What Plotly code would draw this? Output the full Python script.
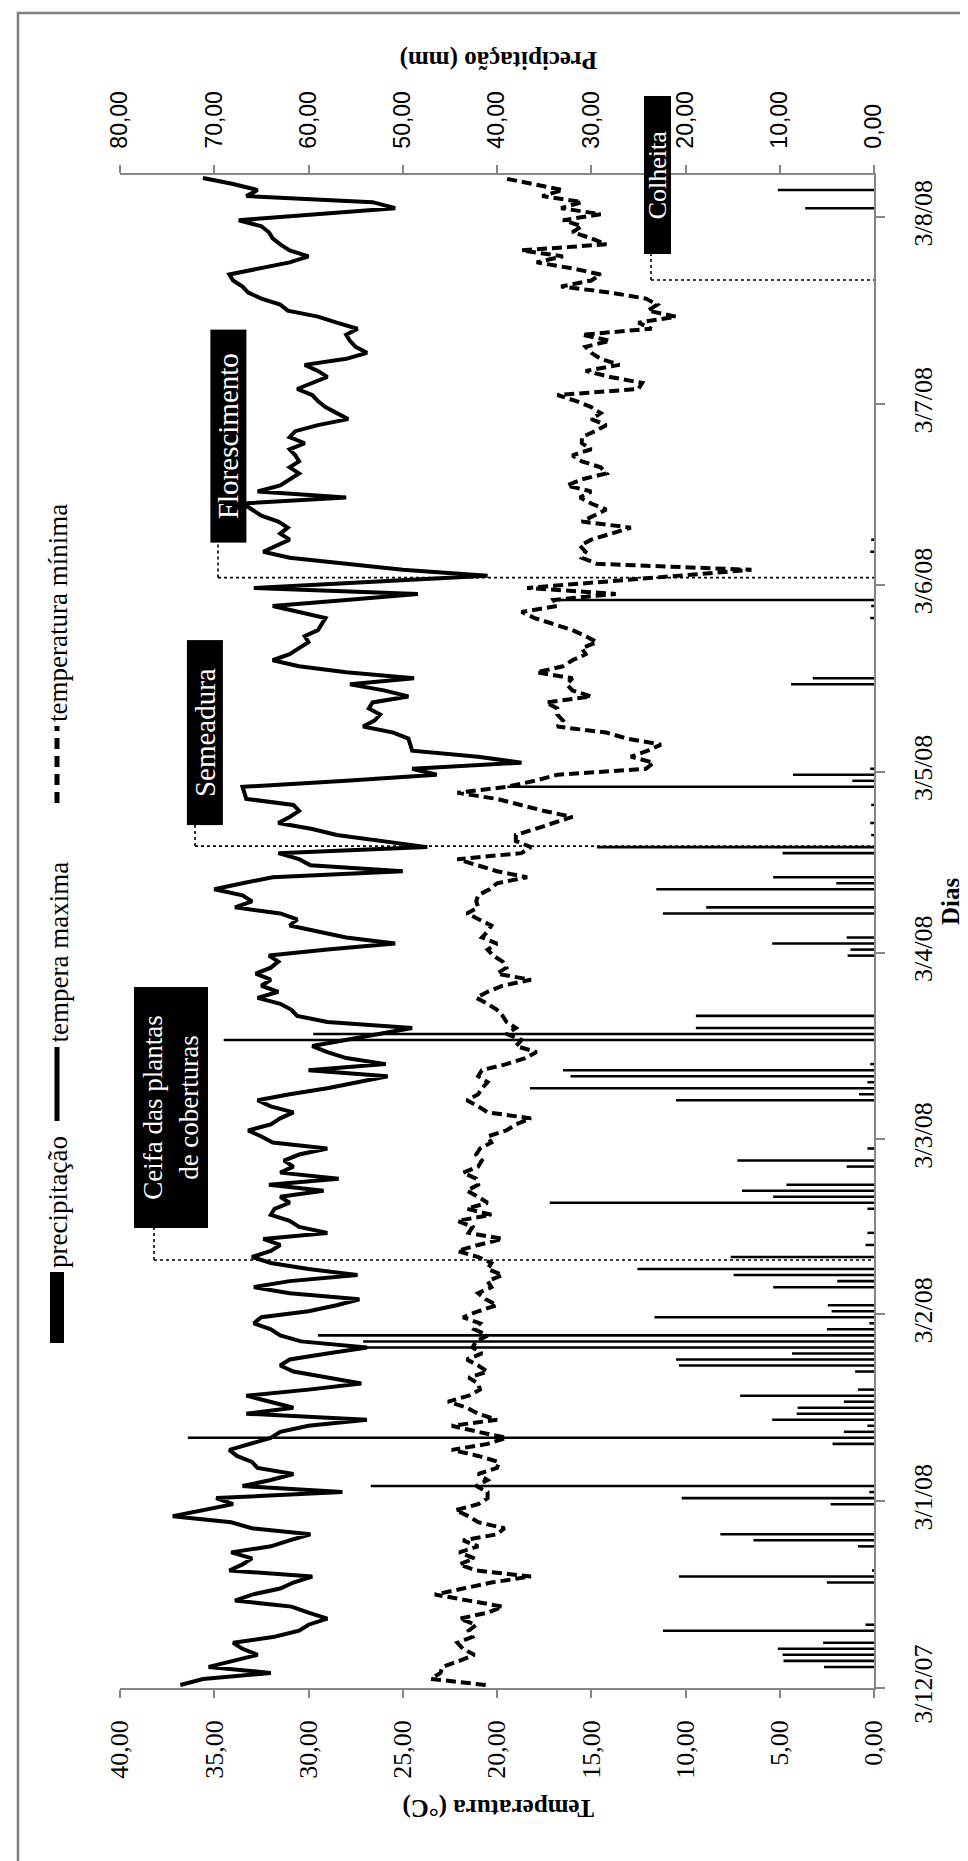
import plotly.graph_objects as go
import pandas as pd

# ---------------- data (daily, from 3/12/07) ----------------
start_date = "2007-12-03 12:00"

tmax = [
    36.8, 35.6, 32.0, 35.3, 34.0, 32.7, 33.5, 34.0, 31.8, 30.5,
    30.0, 29.0, 30.0, 30.9, 33.9, 33.0, 31.5, 30.8, 29.8, 34.2,
    33.5, 33.0, 34.1, 32.0, 31.0, 29.9, 33.0, 34.1, 37.2, 35.5,
    34.0, 34.9, 28.2, 33.5, 32.0, 30.8, 32.7, 33.0, 33.8, 34.2,
    33.0, 32.0, 31.5, 30.0, 26.9, 33.3, 30.8, 32.0, 33.3, 30.0,
    27.2, 29.0, 30.8, 31.5, 31.0, 29.0, 26.9, 30.4, 31.5, 32.0,
    32.9, 32.5, 30.0, 28.5, 27.3, 31.0, 32.9, 31.0, 27.4, 30.0,
    32.0, 33.0, 32.0, 31.5, 32.4, 29.0, 30.5, 31.0, 32.0, 31.8,
    31.0, 31.5, 29.2, 32.1, 28.4, 31.5, 30.8, 31.3, 30.5, 29.0,
    31.9, 32.5, 33.2, 32.0, 31.5, 30.8, 32.0, 32.7, 31.0, 29.0,
    27.5, 25.8, 30.0, 25.9, 28.0, 29.0, 29.8, 28.0, 26.0, 24.5,
    29.0, 30.6, 30.9, 31.5, 32.7, 31.6, 32.5, 32.0, 32.8, 32.0,
    31.6, 32.1, 29.0, 25.4, 28.0, 29.5, 31.0, 30.6, 31.5, 33.9,
    33.0, 33.5, 35.0, 33.5, 31.9, 25.0, 29.9, 30.5, 31.6, 23.7,
    26.0, 28.5, 29.8, 31.6, 31.0, 30.5, 30.8, 33.3, 33.4, 33.5,
    28.0, 23.2, 24.5, 18.7, 21.0, 24.5, 24.6, 24.7, 25.5, 27.1,
    26.5, 26.2, 26.8, 26.6, 24.7, 26.0, 27.8, 24.4, 28.0, 30.5,
    31.9, 31.0, 30.5, 30.0, 30.2, 29.5, 29.3, 29.1, 30.5, 31.9,
    28.0, 24.2, 32.9, 26.5, 20.5, 25.0, 28.0, 31.0, 32.4, 31.7,
    31.0, 31.5, 31.1, 31.6, 32.5, 33.0, 33.5, 28.0, 32.7, 31.5,
    31.0, 30.5, 31.0, 30.5, 30.7, 31.0, 30.2, 31.0, 30.7, 29.5,
    27.9, 28.5, 29.1, 29.5, 29.8, 30.6, 29.8, 29.0, 29.5, 30.2,
    28.0, 26.9, 27.5, 27.8, 28.0, 27.4, 28.5, 29.5, 31.1, 31.5,
    32.5, 33.2, 33.5, 34.0, 34.2, 32.5, 31.0, 30.0, 31.0, 31.5,
    31.9, 32.1, 32.5, 33.7, 29.5, 25.4, 26.6, 33.3, 32.7, 34.0,
    35.6,
]

tmin = [
    20.6, 23.5, 23.0, 22.9, 22.0, 21.2, 21.8, 22.1, 21.3, 21.5,
    21.1, 22.0, 20.5, 19.7, 21.5, 23.3, 21.8, 20.3, 18.2, 21.1,
    22.0, 21.2, 22.0, 21.0, 21.8, 20.0, 19.6, 21.0, 21.5, 22.2,
    21.0, 20.5, 20.5, 21.1, 20.5, 21.0, 20.0, 19.9, 21.0, 22.4,
    20.5, 19.5, 21.0, 22.4, 20.0, 21.0, 21.6, 22.6, 21.5, 20.9,
    21.0, 21.5, 20.5, 21.0, 21.6, 20.8, 21.3, 21.1, 20.5, 21.2,
    20.9, 21.8, 21.0, 20.0, 20.6, 21.0, 20.3, 20.5, 19.7, 20.5,
    20.3, 21.0, 22.1, 21.0, 19.7, 21.5, 21.3, 22.1, 20.3, 21.6,
    20.5, 21.0, 21.6, 21.0, 21.1, 21.8, 21.0, 20.8, 21.1, 20.9,
    20.3, 20.5, 19.5, 19.0, 18.2, 20.5, 21.0, 21.6, 21.0, 20.8,
    20.5, 21.0, 20.8, 19.5, 18.5, 17.9, 19.0, 18.7, 19.5, 19.0,
    19.5, 19.7, 20.0, 20.5, 21.1, 20.5, 19.7, 18.2, 20.0, 19.5,
    19.7, 20.2, 20.5, 20.0, 20.8, 20.5, 20.3, 21.0, 21.6, 21.0,
    21.1, 21.0, 20.4, 20.0, 18.4, 20.0, 21.0, 22.1, 18.7, 18.2,
    19.0, 19.0, 18.0, 17.0, 16.0, 17.5, 18.7, 20.0, 22.1, 19.5,
    18.0, 16.8, 12.1, 11.7, 12.9, 12.0, 11.3, 13.1, 14.2, 16.8,
    16.5, 16.8, 16.8, 17.4, 15.0, 16.0, 16.3, 16.0, 17.9, 16.5,
    16.0, 15.3, 15.5, 14.7, 15.3, 16.0, 17.0, 18.0, 18.7, 16.8,
    17.0, 13.7, 18.4, 14.5, 10.5, 6.5, 14.7, 15.5, 15.3, 15.6,
    15.0, 14.0, 12.9, 15.5, 14.8, 14.2, 15.0, 15.6, 15.0, 16.3,
    15.5, 14.2, 14.5, 15.5, 16.0, 15.0, 15.5, 15.5, 14.8, 14.2,
    15.0, 14.5, 15.0, 15.8, 16.8, 12.5, 12.3, 14.0, 15.3, 13.5,
    14.5, 15.0, 15.3, 14.0, 15.5, 11.8, 12.5, 10.5, 12.0, 11.5,
    12.1, 14.0, 16.6, 15.0, 14.5, 16.0, 17.9, 16.5, 18.7, 14.2,
    15.0, 16.0, 15.5, 16.5, 14.5, 16.6, 15.5, 17.6, 16.5, 18.0,
    19.7,
]

precip = [
    0, 0, 0, 5.3, 9.6, 9.7, 10.2, 5.4, 0, 22.4,
    0.9, 0, 0, 0, 0, 0, 0, 5.0, 20.7, 0.2,
    0, 0, 0, 1.7, 12.8, 16.3, 0, 0, 0, 0,
    4.6, 20.4, 0.5, 53.4, 0, 0, 0, 0, 0, 0,
    4.4, 72.8, 3.2, 0.7, 10.8, 8.2, 8.1, 3.2, 14.2, 1.7,
    0, 0, 2.0, 20.7, 21.0, 8.7, 55.3, 54.2, 59.0, 5.0,
    0.5, 23.3, 4.5, 4.9, 0, 0, 10.7, 3.9, 14.9, 25.1,
    0, 15.2, 0, 0.9, 0, 0.7, 0, 0, 0, 0.7,
    34.4, 10.7, 14.0, 9.3, 0, 0, 2.9, 14.5, 0, 0.7,
    0, 0, 0, 0, 0, 0, 0, 21.0, 1.6, 36.5,
    0.7, 32.2, 33.0, 0.4, 0, 0, 0, 69.0, 59.5, 18.9,
    0, 18.9, 0, 0, 0, 0, 0, 0, 0, 0,
    0, 2.8, 2.5, 10.8, 2.9, 0, 0, 0, 22.4, 17.8,
    0, 0, 23.1, 4.0, 10.7, 0, 0, 0, 9.7, 29.4,
    0, 0.3, 0, 0.4, 0, 0, 0.3, 0, 0, 38.9,
    2.3, 8.6, 0.4, 0, 0, 0, 0, 0, 0, 0,
    0, 0, 0, 0, 0, 0, 8.8, 6.5, 0, 0,
    0, 0, 0, 0, 0, 0, 0, 0.4, 0, 0.3,
    34.2, 0, 0, 0, 0, 0, 0, 0, 0.4, 0,
    0.3, 0, 0, 0, 0, 0, 0, 0, 0, 0,
    0, 0, 0, 0, 0, 0, 0, 0, 0, 0,
    0, 0, 0, 0, 0, 0, 0, 0, 0, 0,
    0, 0, 0, 0, 0, 0, 0, 0, 0, 0,
    0, 0, 0, 0, 0, 0, 0, 0, 0, 0,
    0, 0, 0, 0, 0, 7.3, 0, 0, 10.2, 0,
    0,
]

date_tickvals = ["2007-12-03", "2008-01-03", "2008-02-03", "2008-03-03", "2008-04-03",
                 "2008-05-03", "2008-06-03", "2008-07-03", "2008-08-03"]
date_ticktext = ["3/12/07", "3/1/08", "3/2/08", "3/3/08", "3/4/08",
                 "3/5/08", "3/6/08", "3/7/08", "3/8/08"]
date_range = ["2007-12-03", "2008-08-10"]

temp_tickvals = [0, 5, 10, 15, 20, 25, 30, 35, 40]
temp_ticktext = ["0,00", "5,00", "10,00", "15,00", "20,00", "25,00", "30,00", "35,00", "40,00"]
prec_tickvals = [0, 10, 20, 30, 40, 50, 60, 70, 80]
prec_ticktext = ["0,00", "10,00", "20,00", "30,00", "40,00", "50,00", "60,00", "70,00", "80,00"]

event_labels = ["Ceifa das plantas<br>de coberturas", "Semeadura", "Florescimento", "Colheita"]
event_dates = ["2008-02-12 00:00", "2008-04-20 16:00", "2008-06-04 05:00", "2008-07-23 14:00"]

series_names = ["precipitação", "tempera maxima", "temperatura mínima"]

# ---------------- layout geometry (pixels) ----------------
W, H = 968, 1861
ML, MR, MT, MB = 112, 102, 167, 181
PW, PH = W - ML - MR, H - MT - MB


def px(x):
    return (x - ML) / PW


def py(y):
    return (H - MB - y) / PH


dates = pd.date_range(start_date, periods=len(tmax), freq="D")

AX = "#868686"
SERIF = "Liberation Serif"

fig = go.Figure()
fig.add_trace(go.Scatter(x=tmax, y=dates, mode="lines", name=series_names[1],
                         line=dict(color="black", width=4), xaxis="x", yaxis="y"))
fig.add_trace(go.Scatter(x=tmin, y=dates, mode="lines", name=series_names[2],
                         line=dict(color="black", width=4, dash="10px,5px"), xaxis="x", yaxis="y"))
fig.add_trace(go.Bar(x=precip, y=dates, orientation="h", name=series_names[0],
                     marker=dict(color="black", line=dict(width=0)),
                     width=0.42 * 86400000, xaxis="x2", yaxis="y"))

axis_common = dict(ticks="outside", ticklen=8, tickwidth=1.5, tickcolor=AX,
                   showline=True, linecolor=AX, linewidth=1.5,
                   showgrid=False, zeroline=False, tickangle=-90)

fig.update_layout(
    width=W, height=H,
    margin=dict(l=ML, r=MR, t=MT, b=MB),
    paper_bgcolor="white", plot_bgcolor="white",
    showlegend=False, separators=",.",
    xaxis=dict(range=[40, 0], tickvals=temp_tickvals, ticktext=temp_ticktext,
               tickfont=dict(family=SERIF, size=26, color="black"),
               ticklabelstandoff=12, **axis_common),
    xaxis2=dict(range=[80, 0], overlaying="x", side="top", anchor="y",
                tickvals=prec_tickvals, ticktext=prec_ticktext,
                tickfont=dict(family="Liberation Sans", size=23, color="black"),
                ticklabelstandoff=12, **axis_common),
    yaxis=dict(type="date", range=date_range, side="right",
               tickvals=date_tickvals, ticktext=date_ticktext,
               tickfont=dict(family=SERIF, size=26, color="black"),
               ticklabelstandoff=16,
               ticks="outside", ticklen=9, tickwidth=1.5, tickcolor=AX,
               showline=True, linecolor=AX, linewidth=1.5,
               showgrid=False, zeroline=False, tickangle=-90),
)

shapes = []
annotations = []

# outer frame
shapes.append(dict(type="rect", xref="paper", yref="paper",
                   x0=px(10), x1=px(975), y0=py(1858), y1=py(5),
                   line=dict(color="#808080", width=2.5)))

# axis titles
annotations.append(dict(text="<b>Temperatura (°C)</b>", xref="paper", yref="paper",
                        x=px(490), y=py(1800), textangle=180, showarrow=False,
                        xanchor="center", yanchor="middle",
                        font=dict(family=SERIF, size=25, color="black")))
annotations.append(dict(text="<b>Precipitação (mm)</b>", xref="paper", yref="paper",
                        x=px(491), y=py(52), textangle=180, showarrow=False,
                        xanchor="center", yanchor="middle",
                        font=dict(family=SERIF, size=25, color="black")))
annotations.append(dict(text="<b>Dias</b>", xref="paper", yref="paper",
                        x=px(942), y=py(893), textangle=-90, showarrow=False,
                        xanchor="center", yanchor="middle",
                        font=dict(family=SERIF, size=25, color="black")))

# legend (rotated)
shapes.append(dict(type="rect", xref="paper", yref="paper",
                   x0=px(42), x1=px(56), y0=py(1335), y1=py(1264),
                   fillcolor="black", line=dict(width=0)))
shapes.append(dict(type="line", xref="paper", yref="paper",
                   x0=px(49), x1=px(49), y0=py(1113), y1=py(1039),
                   line=dict(color="black", width=5)))
shapes.append(dict(type="line", xref="paper", yref="paper",
                   x0=px(49), x1=px(49), y0=py(795), y1=py(718),
                   line=dict(color="black", width=5, dash="11px,7px")))
for name, ybot in zip(series_names, [1262, 1037, 716]):
    annotations.append(dict(text=name, xref="paper", yref="paper",
                            x=px(50), y=py(ybot), textangle=-90, showarrow=False,
                            xanchor="center", yanchor="bottom",
                            font=dict(family=SERIF, size=27, color="black")))

# event boxes: (left, right, gap above event line, box length, connector x, font size)
box_geom = [
    (126, 199, 32, 240, 146, 27),
    (179, 214, 21, 184, 187, 29),
    (203, 238, 35, 212, 210, 29),
    (637, 663, 26, 157, 643, 26),
]
for label, ev, (xl, xr, gap, blen, cx, fs) in zip(event_labels, event_dates, box_geom):
    # horizontal dotted line at event date
    shapes.append(dict(type="line", xref="paper", yref="y",
                       x0=px(cx), x1=1, y0=ev, y1=ev,
                       line=dict(color="black", width=1.6, dash="dot")))
    # vertical dotted connector to box
    shapes.append(dict(type="line", xref="paper", yref="y", ysizemode="pixel", yanchor=ev,
                       x0=px(cx), x1=px(cx), y0=0, y1=gap,
                       line=dict(color="black", width=1.6, dash="dot")))
    annotations.append(dict(text=label, xref="paper", yref="y", x=px((xl + xr) / 2), y=ev,
                            yshift=gap + blen / 2, textangle=-90, showarrow=False,
                            xanchor="center", yanchor="middle",
                            width=blen, height=xr - xl, bgcolor="black", borderpad=0,
                            align="center",
                            font=dict(family=SERIF, size=fs, color="white")))

fig.update_layout(shapes=shapes, annotations=annotations)
fig.write_html("out.html")
